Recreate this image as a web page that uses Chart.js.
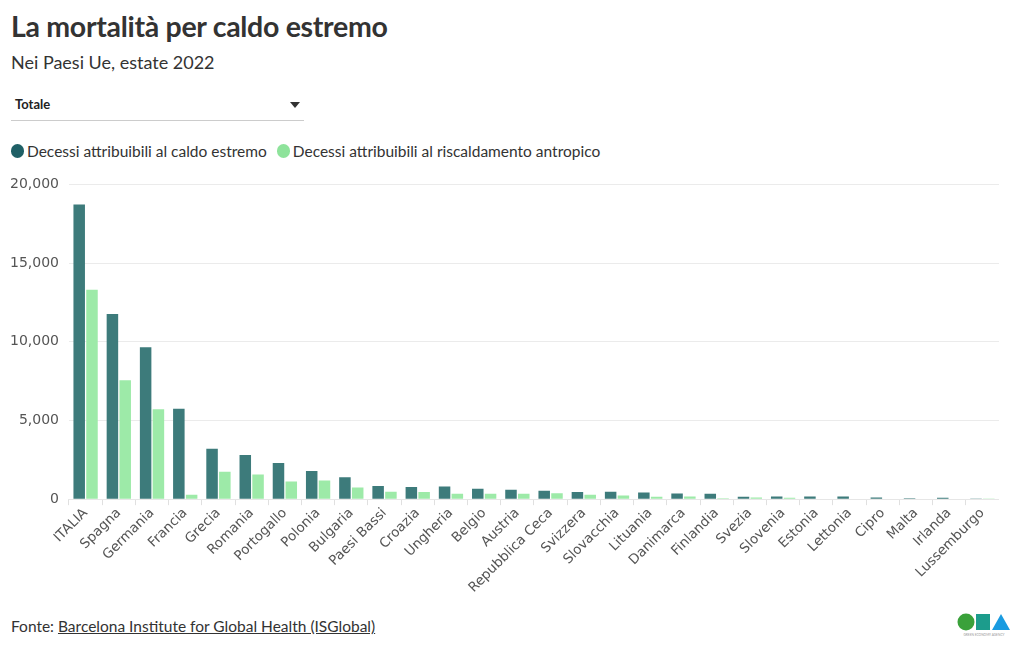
<!DOCTYPE html>
<html>
<head>
<meta charset="utf-8">
<script src="https://cdn.jsdelivr.net/npm/chart.js@4.4.1/dist/chart.umd.min.js"></script>
<style>
  body{margin:0;background:#fff;width:1020px;height:650px;overflow:hidden;font-family:Lato,"Noto Sans",sans-serif;color:#333;position:relative}
  #title{position:absolute;left:11px;top:9px;font-size:28.5px;font-weight:bold;color:#333;letter-spacing:-0.3px}
  #sub{position:absolute;left:11px;top:51px;font-size:18px;color:#333}
  #drop{position:absolute;left:11px;top:94px;width:293px;height:26px;border-bottom:1px solid #ccc;font-size:13px;font-weight:bold;color:#222}
  #drop span{position:absolute;left:4px;top:2px}
  #drop i{position:absolute;right:4px;top:8px;width:0;height:0;border-left:5px solid transparent;border-right:5px solid transparent;border-top:6px solid #333}
  #legend{position:absolute;left:11px;top:142px;font-size:15.5px;color:#333;display:flex}
  #legend div{display:flex;align-items:center;margin-right:10px}
  #legend b{display:inline-block;width:13px;height:14px;border-radius:7px;margin-right:3px}
  #wrap{position:absolute;left:0px;top:166px;width:999px;height:430px}
  #source{position:absolute;left:11px;top:617px;font-size:15.5px;color:#333}
  #source u{text-decoration:underline}
  #logo{position:absolute;left:956px;top:612px;width:56px;height:26px}
</style>
</head>
<body>
<div id="title">La mortalità per caldo estremo</div>
<div id="sub">Nei Paesi Ue, estate 2022</div>
<div id="drop"><span>Totale</span><i></i></div>
<div id="legend">
  <div><b style="background:#1f6066"></b>Decessi attribuibili al caldo estremo</div>
  <div><b style="background:#8ee39b"></b>Decessi attribuibili al riscaldamento antropico</div>
</div>
<div id="wrap"><canvas id="chart"></canvas></div>
<div id="source">Fonte: <u>Barcelona Institute for Global Health (ISGlobal)</u></div>
<svg id="logo" viewBox="0 0 54 26">
  <circle cx="9" cy="10" r="8.5" fill="#3aa13a"/>
  <rect x="19" y="2" width="14" height="16" fill="#1c9c8c"/>
  <polygon points="35,18 44,2 53,18" fill="#1a9be0"/>
  <text x="27" y="24" font-size="3.2" text-anchor="middle" fill="#999">GREEN ECONOMY AGENCY</text>
</svg>
<script>
const countries = ["ITALIA","Spagna","Germania","Francia","Grecia","Romania","Portogallo","Polonia","Bulgaria","Paesi Bassi","Croazia","Ungheria","Belgio","Austria","Repubblica Ceca","Svizzera","Slovacchia","Lituania","Danimarca","Finlandia","Svezia","Slovenia","Estonia","Lettonia","Cipro","Malta","Irlanda","Lussemburgo"]
const caldoEstremo = [18720,11770,9660,5740,3210,2810,2300,1790,1400,830,770,810,660,600,530,450,470,430,360,340,150,170,170,170,110,60,90,40]
const riscaldamento = [13300,7550,5720,280,1740,1570,1130,1190,740,470,450,340,340,340,380,280,230,150,170,60,110,90,20,20,20,20,20,10]
const yTicks = [0,5000,10000,15000,20000]

const tickFont = {family:"'DejaVu Sans', sans-serif", size:14}

new Chart(document.getElementById("chart"), {
  type: "bar",
  data: {
    labels: countries,
    datasets: [
      {label:"Decessi attribuibili al caldo estremo", data:caldoEstremo, backgroundColor:"#3d7b7b"},
      {label:"Decessi attribuibili al riscaldamento antropico", data:riscaldamento, backgroundColor:"#9deaa8"}
    ]
  },
  options: {
    responsive:true,
    maintainAspectRatio:false,
    animation:false,
    categoryPercentage:0.77,
    barPercentage:0.9,
    layout:{padding:{top:8,right:0,left:0,bottom:0}},
    plugins:{legend:{display:false}, tooltip:{enabled:false}},
    scales:{
      x:{
        grid:{drawOnChartArea:false, drawTicks:true, tickLength:6, color:"#e0e0e0"},
        border:{color:"#e6e6e6"},
        ticks:{color:"#555", font:{family:"'DejaVu Sans', sans-serif", size:13.5}, minRotation:45, maxRotation:45, autoSkip:false, padding:0}
      },
      y:{
        min:0, max:20000,
        afterBuildTicks: axis => { axis.ticks = yTicks.map(v => ({value:v})) },
        grid:{color:"#ebebeb", drawTicks:false},
        border:{display:false},
        ticks:{color:"#555", font:tickFont, padding:10, callback: v => v.toLocaleString("en-US")}
      }
    }
  }
})
</script>
</body>
</html>
